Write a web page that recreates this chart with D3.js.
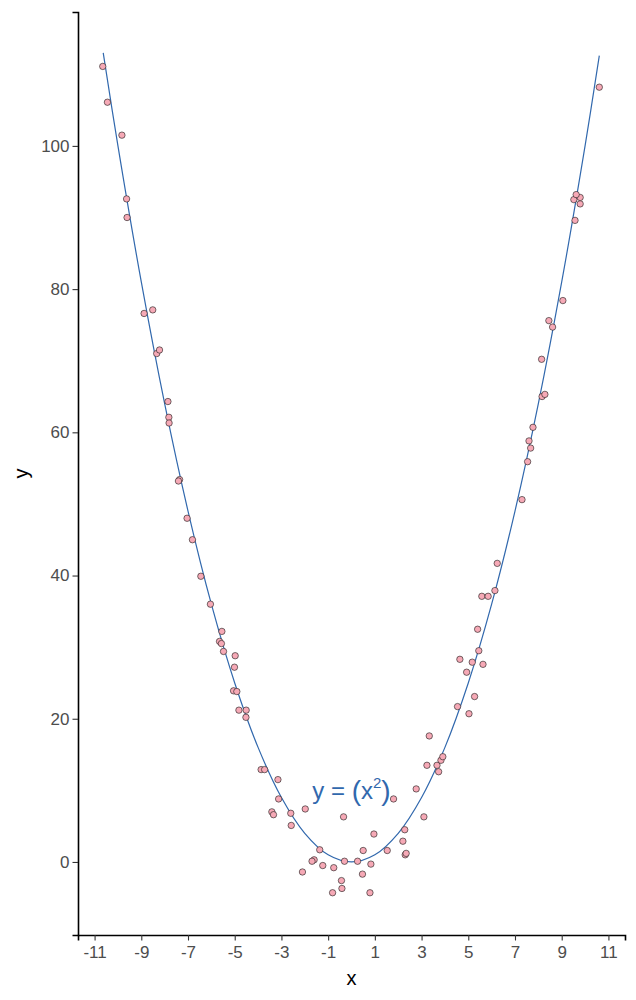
<!DOCTYPE html>
<html>
<head>
<meta charset="utf-8">
<script src="https://cdn.jsdelivr.net/npm/d3@7/dist/d3.min.js"></script>
<style>
  body { margin: 0; background: #fff; }
  svg text { font-family: 'Liberation Sans', Arial, sans-serif; }
</style>
</head>
<body>
<div id="chart"></div>
<script>
// scatter points
const pointX = [
  -10.65, -10.45, -9.83, -9.63, -9.61, -8.88, -8.51, -8.34, -8.22, -7.86,
  -7.82, -7.81, -7.36, -7.41, -7.04, -6.81, -6.45, -6.04, -5.55, -5.65,
  -5.57, -5.48, -4.98, -5.01, -5.05, -4.91, -4.82, -4.51, -4.52, -3.87,
  -3.72, -3.15, -3.12, -3.41, -3.34, -2.60, -1.98, -2.58, -1.36, -1.60,
  -1.69, -2.10, -1.23, -0.76, -0.34, -0.30, -0.43, -0.41, -0.81, 0.26,
  0.50, 0.47, 0.83, 0.79, 0.96, 1.53, 1.80, 2.28, 2.20, 2.30,
  2.34, 2.77, 3.10, 3.23, 3.66, 3.73, 3.83, 3.91, 3.33, 4.54,
  5.03, 5.27, 4.93, 4.64, 5.17, 5.63, 5.45, 5.40, 5.58, 5.85,
  6.14, 6.24, 7.30, 7.54, 7.67, 7.60, 7.77, 8.16, 8.28, 8.14,
  8.61, 8.45, 9.05, 9.57, 9.79, 9.52, 9.79, 9.62, 10.61
]
const pointY = [
  111.1, 106.1, 101.5, 92.6, 90.0, 76.6, 77.1, 71.0, 71.5, 64.3,
  62.1, 61.3, 53.4, 53.2, 48.0, 45.0, 39.9, 36.0, 32.2, 30.8,
  30.5, 29.4, 28.8, 27.2, 23.9, 23.8, 21.2, 21.2, 20.2, 12.9,
  12.9, 11.5, 8.8, 7.0, 6.6, 6.8, 7.4, 5.1, 1.7, 0.3,
  0.1, -1.4, -0.5, -0.8, 6.3, 0.1, -2.6, -3.7, -4.3, 0.1,
  1.6, -1.7, -0.3, -4.3, 3.9, 1.6, 8.8, 4.5, 2.9, 1.0,
  1.2, 10.2, 6.3, 13.5, 13.5, 12.6, 14.2, 14.7, 17.6, 21.7,
  20.7, 23.1, 26.5, 28.3, 27.9, 27.6, 29.5, 32.5, 37.1, 37.1,
  37.9, 41.7, 50.6, 55.9, 57.8, 58.8, 60.7, 65.0, 65.3, 70.2,
  74.7, 75.6, 78.4, 89.6, 91.9, 92.5, 92.8, 93.2, 108.2
]

// blue fitted line, read along its path
const curveX = [-10.63, -10, -9, -8, -7, -6, -5, -4, -3, -2, -1, 0, 1, 2, 3, 4, 5, 6, 7, 8, 9, 10, 10.61]
const curveY = [113.0, 100, 81, 64, 49, 36, 25, 16, 9, 4, 1, 0, 1, 4, 9, 16, 25, 36, 49, 64, 81, 100, 112.6]

const xTicks = [-11, -9, -7, -5, -3, -1, 1, 3, 5, 7, 9, 11]
const yTicks = [0, 20, 40, 60, 80, 100]

const margin = { top: 12, right: 11, bottom: 65, left: 78 }
const width = 636 - margin.left - margin.right
const height = 1000 - margin.top - margin.bottom

const svg = d3
  .select('#chart')
  .append('svg')
  .attr('width', 636)
  .attr('height', 1000)

const g = svg
  .append('g')
  .attr('transform', 'translate(' + margin.left + ',' + margin.top + ')')

const xScale = d3.scaleLinear().domain([-11.71, 11.71]).range([0, width])
const yScale = d3.scaleLinear().domain([-10.2, 118.7]).range([height, 0])

const lineColor = '#3168ad'

// curve
const line = d3
  .line()
  .x((d, i) => xScale(curveX[i]))
  .y((d, i) => yScale(curveY[i]))
  .curve(d3.curveCatmullRom)

g.append('path')
  .datum(curveX)
  .attr('d', line)
  .attr('fill', 'none')
  .attr('stroke', lineColor)
  .attr('stroke-width', 1.2)

// points
g.selectAll('circle')
  .data(pointX)
  .enter()
  .append('circle')
  .attr('cx', (d, i) => xScale(pointX[i]))
  .attr('cy', (d, i) => yScale(pointY[i]))
  .attr('r', 3.2)
  .attr('fill', '#f6a9b6')
  .attr('stroke', '#1a1a1a')
  .attr('stroke-width', 0.6)

// equation label
const label = g
  .append('text')
  .attr('x', xScale(0))
  .attr('y', yScale(8.85))
  .attr('text-anchor', 'middle')
  .attr('fill', lineColor)
  .attr('font-size', 24)
label.append('tspan').text('y = ')
label.append('tspan').attr('font-size', 28).attr('dy', 1).text('(')
label.append('tspan').attr('dy', -1).text('x')
label.append('tspan').attr('font-size', 15).attr('dy', -11).text('2')
label.append('tspan').attr('font-size', 28).attr('dy', 12).text(')')

// axes, hyphen minus like the original labels
const xAxis = d3.axisBottom(xScale).tickValues(xTicks).tickSize(5.5).tickPadding(5)
  .tickFormat(d => String(d))
const yAxis = d3.axisLeft(yScale).tickValues(yTicks).tickSize(5.5).tickPadding(3)
  .tickFormat(d => String(d))

g.append('g')
  .attr('class', 'axis x-axis')
  .attr('transform', 'translate(0,' + height + ')')
  .call(xAxis)

g.append('g')
  .attr('class', 'axis y-axis')
  .call(yAxis)

g.selectAll('.axis .domain').attr('stroke', '#000').attr('stroke-width', 1.6)
g.selectAll('.axis .tick line').attr('stroke', '#333').attr('stroke-width', 1.1)
g.selectAll('.axis .tick text')
  .attr('fill', '#4d4d4d')
  .attr('font-size', 17)
  .attr('font-family', "'Liberation Sans', Arial, sans-serif")

// axis titles
svg.append('text')
  .attr('x', margin.left + width / 2)
  .attr('y', 985)
  .attr('text-anchor', 'middle')
  .attr('font-size', 20)
  .attr('fill', '#000')
  .text('x')

svg.append('text')
  .attr('transform', 'translate(28,' + (margin.top + height / 2) + ') rotate(-90)')
  .attr('text-anchor', 'middle')
  .attr('font-size', 20)
  .attr('fill', '#000')
  .text('y')
</script>
</body>
</html>
